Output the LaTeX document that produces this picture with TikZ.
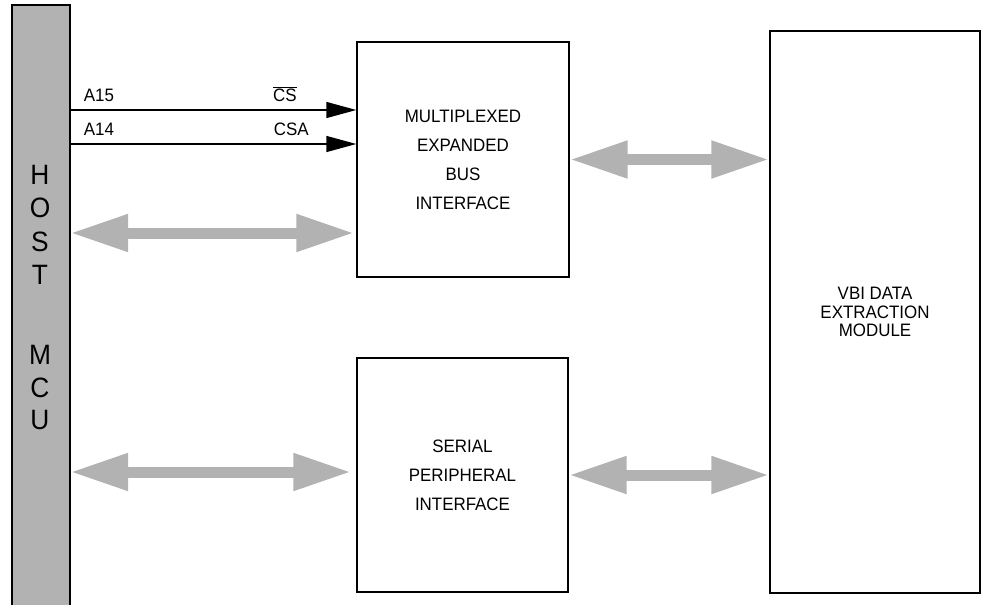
\documentclass[tikz,border=0pt]{standalone}
\usepackage{fontspec}
\setmainfont{Liberation Sans}[FakeStretch=0.94]
\usetikzlibrary{arrows.meta,positioning}

\begin{document}
\begin{tikzpicture}[x=1pt,y=-1pt,
                   block/.style={draw,line width=1.4pt,rectangle,align=center,font=\fontsize{18}{29}\selectfont},
                   sig/.style={line width=1.4pt,-{Triangle[length=30pt,width=16pt]}},
                   bus/.style={line width=11pt,black!30,{Triangle[length=58pt,width=35pt]}-{Triangle[length=58pt,width=35pt]}},
                   lbl/.style={font=\fontsize{18}{20}\selectfont,inner sep=1pt}]
\useasboundingbox (0,0) rectangle (982,605);
% host bar, open at the bottom
\node[fill=black!30,minimum width=58pt,minimum height=600pt,inner sep=0pt] (host) at (41,305) {};
\draw[line width=2.2pt] (host.south west) -- (host.north west) -- (host.north east) -- (host.south east);
\foreach \l/\y in {H/175,O/208,S/242,T/275,M/355,C/388,U/420}
  \node[font=\fontsize{28}{28}\selectfont] (host-\l) at (40,\y) {\l};
% blocks
\node[block,minimum width=212pt,minimum height=235pt] (meb) at (463,159.5) {MULTIPLEXED\\EXPANDED\\BUS\\INTERFACE};
\node[block,minimum width=211pt,minimum height=234pt] (spi) at (462.5,475) {SERIAL\\PERIPHERAL\\INTERFACE};
\node[block,minimum width=210pt,minimum height=562pt,font=\fontsize{18}{18.5}\selectfont] (vbi) at (875,312) {VBI DATA\\EXTRACTION\\MODULE};
% chip selects
\coordinate (cs) at ([yshift=49.5pt]meb.west);
\coordinate (csa) at ([yshift=15.5pt]meb.west);
\draw[sig] (host.east |- cs) -- (cs)
  node[lbl,pos=0,anchor=south west,xshift=12pt,yshift=7pt] {A15}
  node[lbl,pos=1,anchor=south east,xshift=-58pt,yshift=7pt] {\(\overline{\mbox{CS}}\)};
\draw[sig] (host.east |- csa) -- (csa)
  node[lbl,pos=0,anchor=south west,xshift=12pt,yshift=7pt] {A14}
  node[lbl,pos=1,anchor=south east,xshift=-46pt,yshift=7pt] {CSA};
% buses
\coordinate (mebin) at ([xshift=-2pt,yshift=-73.5pt]meb.west);
\coordinate (spiin) at ([xshift=-5pt,yshift=3pt]spi.west);
\draw[bus] (host.east |- mebin) -- (mebin);
\draw[bus] (host.east |- spiin) -- (spiin);
\draw[bus] (meb.east) -- (meb.east -| vbi.west);
\draw[bus] (spi.east) -- (spi.east -| vbi.west);
\end{tikzpicture}
\end{document}
